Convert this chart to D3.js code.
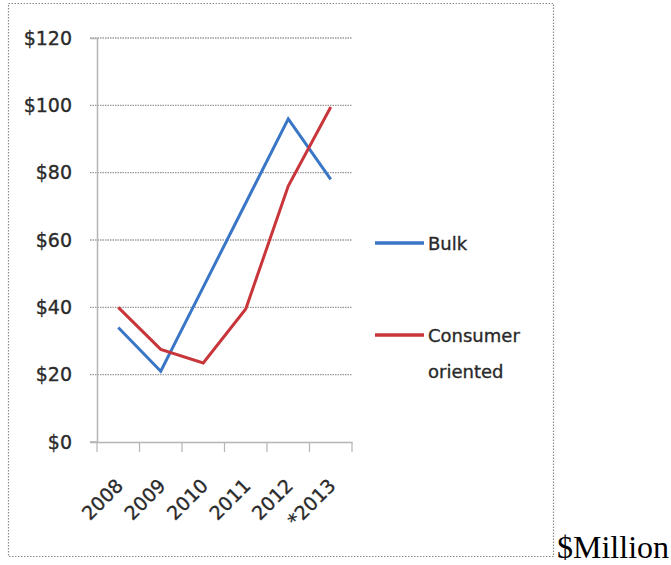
<!DOCTYPE html>
<html>
<head>
<meta charset="utf-8">
<script src="https://cdn.jsdelivr.net/npm/d3@7"></script>
<style>
  body { margin: 0; background: #fff; }
  svg { display: block; }
  .lbl { font-family: "DejaVu Sans"; font-size: 18px; fill: #2a2a2a; stroke: #2a2a2a; stroke-width: 0.35px; }
  .tk { font-size: 19px; }
</style>
</head>
<body>
<div id="chart"></div>
<script>
// chart data
var years = ["2008", "2009", "2010", "2011", "2012", "*2013"];
var bulk = [34, 21, 46, 71, 96, 78];
var consumer = [40, 27.5, 23.5, 39.5, 76, 99.5];
var yTicks = [0, 20, 40, 60, 80, 100, 120];
var seriesNames = ["Bulk", "Consumer oriented"];

var W = 671, H = 565;

var svg = d3.select("#chart")
  .append("svg")
    .attr("width", W)
    .attr("height", H);

// outer dotted frame of the picture
svg.append("rect")
  .attr("x", 8.5).attr("y", 3.5)
  .attr("width", 545).attr("height", 553)
  .attr("fill", "none")
  .attr("stroke", "#8a8a8a")
  .attr("stroke-width", 1.2)
  .attr("stroke-dasharray", "1.5,1.5");

// scales
var x = d3.scaleBand()
  .domain(years)
  .range([97, 352]);

var y = d3.scaleLinear()
  .domain([0, 120])
  .range([442, 38]);

// grid lines
svg.append("g")
  .selectAll("line")
  .data(yTicks.filter(function(d) { return d > 0; }))
  .enter()
  .append("line")
    .attr("x1", 90).attr("x2", 352)
    .attr("y1", function(d) { return y(d); })
    .attr("y2", function(d) { return y(d); })
    .attr("stroke", "#9a9a9a")
    .attr("stroke-width", 1.4)
    .attr("stroke-dasharray", "1.5,1");

// Y axis
var yAxis = svg.append("g")
  .attr("transform", "translate(97,0)")
  .call(d3.axisLeft(y).tickValues(yTicks).tickSize(7)
        .tickFormat(function(d) { return "$" + d; }));
yAxis.select(".domain").attr("stroke", "#b5b5b5").attr("stroke-width", 1.5);
yAxis.selectAll(".tick line").attr("stroke", "none");
yAxis.selectAll("text")
  .attr("class", "lbl tk")
  .attr("x", -25)
  .attr("dy", "0.32em");

// X axis
var xAxis = svg.append("g")
  .attr("transform", "translate(0," + y(0) + ")")
  .call(d3.axisBottom(x).tickSize(0).tickFormat(""));
xAxis.select(".domain").attr("stroke", "#b5b5b5").attr("stroke-width", 1.5);

// category boundary ticks
svg.append("g")
  .selectAll("line")
  .data(years.concat(["end"]))
  .enter()
  .append("line")
    .attr("x1", function(d, i) { return i < years.length ? x(d) : x.range()[1]; })
    .attr("x2", function(d, i) { return i < years.length ? x(d) : x.range()[1]; })
    .attr("y1", y(0)).attr("y2", y(0) + 10)
    .attr("stroke", "#b5b5b5")
    .attr("stroke-width", 1.2);

svg.append("line")
  .attr("x1", 90).attr("x2", 97)
  .attr("y1", y(0)).attr("y2", y(0))
  .attr("stroke", "#b5b5b5").attr("stroke-width", 1.5);

// rotated year labels
svg.append("g")
  .selectAll("text")
  .data(years)
  .enter()
  .append("text")
    .attr("class", "lbl tk")
    .attr("transform", function(d) {
      return "translate(" + (x(d) + x.bandwidth() / 2 + 6) + ",487)rotate(-45)";
    })
    .attr("text-anchor", "end")
    .text(function(d) { return d; });

// lines
var line = d3.line()
  .x(function(d, i) { return x(years[i]) + x.bandwidth() / 2; })
  .y(function(d) { return y(d); });

svg.append("path")
  .datum(bulk)
  .attr("fill", "none")
  .attr("stroke", "#3a76c6")
  .attr("stroke-width", 3)
  .attr("d", line);

svg.append("path")
  .datum(consumer)
  .attr("fill", "none")
  .attr("stroke", "#c8353a")
  .attr("stroke-width", 3)
  .attr("d", line);

// legend
var legend = svg.append("g");
legend.append("line")
  .attr("x1", 375).attr("x2", 424)
  .attr("y1", 243).attr("y2", 243)
  .attr("stroke", "#3a76c6").attr("stroke-width", 3.5);
legend.append("text")
  .attr("class", "lbl")
  .attr("x", 428).attr("y", 250)
  .text(seriesNames[0]);

legend.append("line")
  .attr("x1", 375).attr("x2", 424)
  .attr("y1", 335).attr("y2", 335)
  .attr("stroke", "#c8353a").attr("stroke-width", 3.5);
legend.append("text")
  .attr("class", "lbl")
  .attr("x", 428).attr("y", 342)
  .text("Consumer");
legend.append("text")
  .attr("class", "lbl")
  .attr("x", 428).attr("y", 378)
  .text("oriented");

// caption beside the image
svg.append("text")
  .attr("x", 557).attr("y", 558)
  .style("font-family", "Liberation Serif")
  .style("font-size", "32px")
  .attr("fill", "#000")
  .text("$Million");
</script>
</body>
</html>
